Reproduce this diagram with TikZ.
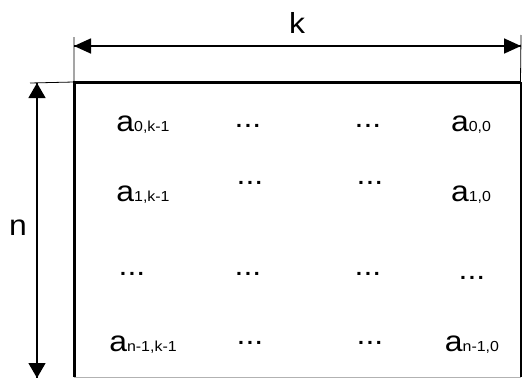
\documentclass[tikz,border=0pt]{standalone}
\usepackage{fontspec}
\setmainfont[FakeStretch=1.1]{Liberation Sans}
\usetikzlibrary{arrows.meta,positioning}
\newcommand{\elem}[1]{a{\fontsize{14.5}{16}\selectfont #1}}

\begin{document}
\begin{tikzpicture}[x=1pt,y=-1pt,
  cell/.style={font=\fontsize{29}{32}\selectfont,inner sep=0pt,anchor=base},
  hhead/.style={-{Triangle[length=17pt,width=15pt]}},
  vhead/.style={-{Triangle[length=15pt,width=17pt]}}]
\useasboundingbox (0,0) rectangle (523,378);
% corners of the table and ends of the dimension lines
\coordinate (tl) at (74,82); \coordinate (tr) at (520.5,82);
\coordinate (bl) at (74,377); \coordinate (br) at (520.5,377);
\coordinate (kl) at (74,46); \coordinate (kr) at (521,46);
\coordinate (kltop) at (74,37); \coordinate (krtop) at (521,35);
\coordinate (nt) at (37,83); \coordinate (nb) at (37,378);
\coordinate (nleft) at (30,83);
\draw[gray!60,line width=1pt] (bl)--(br);
\draw[line width=2pt] (tr)--(br);
\draw[line width=3pt] (bl)--(tl)--(tr);
\draw[line width=0.8pt] (kltop)--(tl) (krtop)--(tr) (nleft)--(tl);
\draw[line width=1.7pt,hhead] (kl)--(kr); \draw[line width=1.7pt,hhead] (kr)--(kl);
\draw[line width=1.4pt,vhead] (nt)--(nb); \draw[line width=1.4pt,vhead] (nb)--(nt);
\node[cell] (k) at (297,33) {k};
\node[cell] (n) at (18,235) {n};
% matrix entries
\node[cell] (a00) at (143,131) {\elem{0,k-1}};
\node[cell] (a03) at (471,131) {\elem{0,0}};
\node[cell] (a10) at (143,201) {\elem{1,k-1}};
\node[cell] (a13) at (471,201) {\elem{1,0}};
\node[cell] (a30) at (143,351) {\elem{n-1,k-1}};
\node[cell] (a33) at (472,351) {\elem{n-1,0}};
\foreach \nm/\x/\y in {d01/248/127.5,d02/368/127.5,d11/250/184,d12/370/184,
  d20/132/275.5,d21/248/275.5,d22/368/275.5,d23/472/279,d31/250/344.5,d32/370/344.5} {
 \node[cell] (\nm) at (\x,\y) {...};
}
\end{tikzpicture}
\end{document}
